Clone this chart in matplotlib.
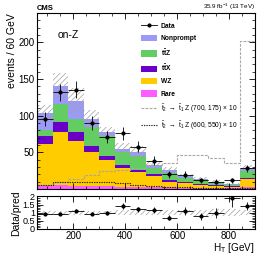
import numpy as np
import matplotlib
matplotlib.use("Agg")
import matplotlib.pyplot as plt
from matplotlib.lines import Line2D
from matplotlib.patches import Patch
from matplotlib.ticker import MultipleLocator, FixedLocator

plt.rcParams['font.family'] = ['Liberation Sans', 'DejaVu Sans']
plt.rcParams['mathtext.fontset'] = 'custom'
plt.rcParams['mathtext.rm'] = 'Liberation Sans'
plt.rcParams['mathtext.it'] = 'Liberation Sans:italic'
plt.rcParams['mathtext.bf'] = 'Liberation Sans:bold'
plt.rcParams['hatch.linewidth'] = 0.5

# ---------------- data ----------------
edges = [60, 120, 180, 240, 300, 360, 420, 480, 540, 600, 660, 720, 780, 840, 900]
rare = [5, 5, 4.5, 4, 3.5, 3, 2.5, 2, 2, 1.5, 1.5, 1, 1, 2]
wz = [56, 73, 61.5, 46, 35.5, 25, 20, 15, 8, 6.5, 4.5, 3, 2, 11]
ttx = [11, 13, 11, 9, 6, 4, 3, 3, 2, 1.5, 1, 1, 0.5, 2]
ttz = [8, 25, 18, 25, 27, 18, 20, 9, 10, 5.5, 5, 3, 1.5, 9]
nonprompt = [23, 25, 25, 11, 6, 5, 5, 4, 4, 3, 2, 2, 1.5, 4]
unc = [12, 17, 17, 12, 7, 8, 8, 5, 4, 3, 2.5, 2, 1.5, 4]
data = [95, 132, 135, 90, 71, 76, 57.5, 38.5, 20, 19.5, 12, 10, 12, 28]
data_err = [9.7, 11.5, 11.6, 9.5, 8.4, 8.7, 7.6, 6.2, 4.5, 4.4, 3.5, 3.2, 3.5, 5.3]
sig_700_175 = [6, 9, 14, 19.5, 24, 26, 28, 32, 36, 46, 46, 42, 35, 202]
sig_600_550 = [5, 9, 9.5, 9.5, 9, 8, 6, 4, 2.5, 2, 1.5, 1, 0.8, 1.5]
ratio = [0.94, 0.94, 1.13, 0.94, 0.98, 1.42, 1.2, 1.15, 0.7, 1.1, 0.77, 0.99, 1.92, 1.42]
ratio_err = [0.09, 0.08, 0.1, 0.1, 0.11, 0.16, 0.15, 0.19, 0.17, 0.25, 0.22, 0.32, 0.55, 0.27]
main_yticks = [0, 50, 100, 150, 200]
main_yticklabels = ['', '50', '100', '150', '200']
ratio_yticks = [0, 0.5, 1, 1.5, 2]
ratio_yticklabels = ['0', '0.5', '1', '1.5', '2']
x_ticks = [200, 400, 600, 800]

labels = ['Nonprompt', r'$\mathbf{t\bar{t}Z}$', r'$\mathbf{t\bar{t}X}$', 'WZ', 'Rare']
colors = {'Nonprompt': '#9b9bf7', 'ttZ': '#63cc63', 'ttX': '#6a00c8', 'WZ': '#ffcc00', 'Rare': '#ff5cff'}

edges_a = np.array(edges, float)
centers = 0.5 * (edges_a[1:] + edges_a[:-1])
halfw = 0.5 * (edges_a[1:] - edges_a[:-1])

fig = plt.figure(figsize=(2.66, 2.56), dpi=100)
ax = fig.add_axes([0.139, 0.262, 0.820, 0.6875])
rx = fig.add_axes([0.139, 0.1055, 0.820, 0.127])

# stack
comps = [('Rare', rare), ('WZ', wz), ('ttX', ttx), ('ttZ', ttz), ('Nonprompt', nonprompt)]
base = np.zeros(len(rare))
for name, vals in comps:
    top = base + np.array(vals, float)
    ax.stairs(top, edges_a, baseline=base, fill=True, color=colors[name], lw=0)
    base = top
total = base
unc_a = np.array(unc, float)
ax.stairs(total + unc_a, edges_a, baseline=total - unc_a, fill=True, facecolor='none',
          edgecolor='#a0a0a0', hatch='//////', lw=0)

# signals
ax.stairs(sig_700_175, edges_a, color='#a8a8a8', lw=0.8, ls=(0, (2.5, 1.2)))
ax.stairs(sig_600_550, edges_a, color='#222222', lw=0.8, ls=(0, (1.2, 1.0)))

# data
ax.errorbar(centers, data, xerr=halfw, yerr=data_err, fmt='o', color='black',
            ms=2, lw=0.6, capsize=0)

ax.set_xlim(60, 900)
ax.set_ylim(0, 240)
ax.xaxis.set_major_locator(FixedLocator(x_ticks))
ax.set_xticklabels([])
ax.xaxis.set_minor_locator(MultipleLocator(50))
ax.set_yticks(main_yticks)
ax.set_yticklabels(main_yticklabels)
ax.yaxis.set_minor_locator(MultipleLocator(10))
ax.tick_params(which='both', direction='in', top=True, right=True, labelsize=7, pad=2)
ax.tick_params(which='major', length=4, width=0.6)
ax.tick_params(which='minor', length=2, width=0.5)
ax.set_ylabel('events / 60 GeV', fontsize=7.5, loc='top', labelpad=1)
for s in ax.spines.values():
    s.set_linewidth(0.8)

ax.text(0.0, 1.008, 'CMS', transform=ax.transAxes, fontsize=5.5, fontweight='bold',
        ha='left', va='bottom')
ax.text(1.0, 1.008, r'35.9 fb$^{-1}$ (13 TeV)', transform=ax.transAxes, fontsize=4.5,
        ha='right', va='bottom')
ax.text(0.095, 0.875, 'on-Z', transform=ax.transAxes, fontsize=7.5, ha='left', va='center')

handles = [
    Line2D([0], [0], color='black', marker='o', ms=2, lw=0.6),
    Patch(facecolor=colors['Nonprompt'], lw=0),
    Patch(facecolor=colors['ttZ'], lw=0),
    Patch(facecolor=colors['ttX'], lw=0),
    Patch(facecolor=colors['WZ'], lw=0),
    Patch(facecolor=colors['Rare'], lw=0),
    Line2D([0], [0], color='#a8a8a8', lw=0.8, ls=(0, (2.5, 1.2))),
    Line2D([0], [0], color='#222222', lw=0.8, ls=(0, (1.2, 1.0))),
]
leg_labels = ['Data'] + labels + [
    r'$\tilde{\mathrm{t}}_2$ $\rightarrow$ $\tilde{\mathrm{t}}_1$ Z (700, 175) $\times$ 10',
    r'$\tilde{\mathrm{t}}_2$ $\rightarrow$ $\tilde{\mathrm{t}}_1$ Z (600, 550) $\times$ 10',
]
leg = ax.legend(handles, leg_labels, loc='upper left', bbox_to_anchor=(0.465, 0.96),
                frameon=False, fontsize=4.8, handlelength=2.4, handleheight=1.1,
                labelspacing=0.72, handletextpad=0.55, borderaxespad=0)
for t in leg.get_texts()[:6]:
    t.set_fontweight('bold')

# ratio panel
rx.stairs(np.ones(len(unc)) + unc_a / total, edges_a, baseline=np.ones(len(unc)) - unc_a / total,
          fill=True, facecolor='none', edgecolor='#a0a0a0', hatch='//////', lw=0)
rx.errorbar(centers, ratio, xerr=halfw, yerr=ratio_err, fmt='o', color='black',
            ms=2, lw=0.6, capsize=0)
rx.set_xlim(60, 900)
rx.set_ylim(0, 2)
rx.xaxis.set_major_locator(FixedLocator(x_ticks))
rx.xaxis.set_minor_locator(MultipleLocator(50))
rx.set_yticks(ratio_yticks)
rx.set_yticklabels(ratio_yticklabels)
rx.yaxis.set_minor_locator(MultipleLocator(0.1))
rx.tick_params(which='both', direction='in', top=True, right=True, labelsize=7, pad=1.5)
rx.tick_params(axis='y', labelsize=6.5, pad=1.5)
rx.tick_params(which='major', length=4, width=0.6)
rx.tick_params(which='minor', length=2, width=0.5)
rx.set_ylabel('Data/pred', fontsize=7.5, labelpad=1)
rx.set_xlabel(r'H$_\mathrm{T}$ [GeV]', fontsize=7.2, loc='right', labelpad=0)
for s in rx.spines.values():
    s.set_linewidth(0.8)
fig.align_ylabels([ax, rx])

fig.savefig('out.png', dpi=100)
